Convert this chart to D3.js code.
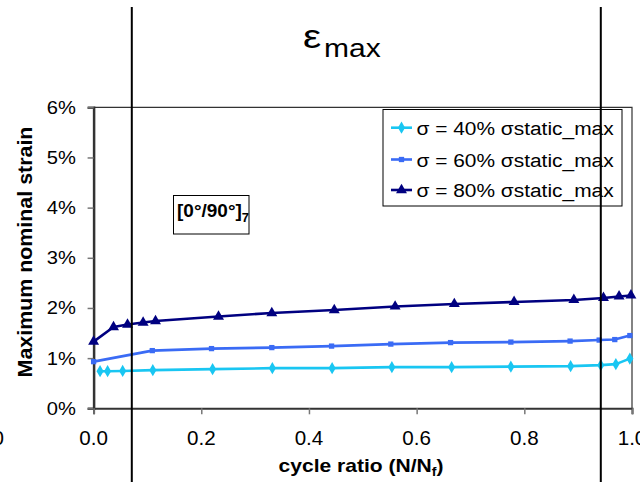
<!DOCTYPE html>
<html>
<head>
<meta charset="utf-8">
<script src="https://cdn.jsdelivr.net/npm/d3@7"></script>
<style>
  html, body { margin: 0; padding: 0; background: #fff; }
  svg { display: block; }
  text { font-family: "Liberation Sans", Arial, sans-serif; }
</style>
</head>
<body>
<svg id="chart" width="640" height="482"></svg>
<script>
// ---- data ----
const seriesNames = ["σ = 40% σstatic_max", "σ = 60% σstatic_max", "σ = 80% σstatic_max"];
const seriesColors = ["#19C6F2", "#3A6BF5", "#000080"];
const seriesSymbols = ["diamond", "square", "triangle"];

const x40 = [0.012, 0.026, 0.054, 0.110, 0.221, 0.332, 0.443, 0.554, 0.665, 0.775, 0.886, 0.942, 0.970, 0.996];
const y40 = [0.74, 0.74, 0.745, 0.76, 0.78, 0.80, 0.80, 0.82, 0.82, 0.83, 0.84, 0.86, 0.88, 0.99];

const x60 = [0.0, 0.109, 0.219, 0.331, 0.442, 0.552, 0.663, 0.775, 0.885, 0.939, 0.968, 0.996];
const y60 = [0.93, 1.15, 1.19, 1.21, 1.24, 1.28, 1.31, 1.32, 1.34, 1.36, 1.37, 1.45];

const x80 = [0.0, 0.037, 0.063, 0.092, 0.115, 0.232, 0.331, 0.447, 0.560, 0.670, 0.781, 0.892, 0.947, 0.976, 0.998];
const y80 = [1.33, 1.62, 1.67, 1.71, 1.74, 1.83, 1.90, 1.96, 2.03, 2.08, 2.12, 2.16, 2.20, 2.23, 2.25];

const xTicks = [0.0, 0.2, 0.4, 0.6, 0.8, 1.0];
const xTickLabels = ["0.0", "0.2", "0.4", "0.6", "0.8", "1.0"];
const yTicks = [0, 1, 2, 3, 4, 5, 6];
const yTickLabels = ["0%", "1%", "2%", "3%", "4%", "5%", "6%"];

// ---- drawing ----
const svg = d3.select("#chart");
const pLeft = 93.6, pRight = 632, pTop = 107.3, pBottom = 408.3;
const x = d3.scaleLinear().domain([0, 1]).range([pLeft, pRight]);
const y = d3.scaleLinear().domain([0, 6]).range([pBottom, pTop]);

function stext(g, str, tx, ty, opts) {
  return g.append("text")
    .attr("transform", `translate(${tx},${ty}) ${opts.rotate ? "rotate(" + opts.rotate + ")" : ""} scale(${opts.sx || 1},1)`)
    .attr("font-size", opts.size)
    .attr("font-weight", opts.bold ? "bold" : "normal")
    .attr("text-anchor", opts.anchor || "start")
    .attr("fill", "#000")
    .text(str);
}

// plot frame (top & right)
svg.append("path")
  .attr("d", `M${pLeft},${pTop}H${pRight}V${pBottom}`)
  .attr("fill", "none").attr("stroke", "#333").attr("stroke-width", 1.2);

// y axis
const yAxis = d3.axisLeft(y).tickValues(yTicks).tickSize(6).tickFormat("");
const gy = svg.append("g").attr("transform", `translate(${pLeft},0)`).call(yAxis);
gy.select(".domain").attr("stroke", "#333").attr("stroke-width", 2.5);
gy.selectAll(".tick line").attr("stroke", "#777").attr("stroke-width", 1.5);
yTicks.forEach((v, i) => stext(svg, yTickLabels[i], 76, y(v) + 6.5, { size: 18, sx: 1.12, anchor: "end" }));

// x axis
const xAxis = d3.axisBottom(x).tickValues(xTicks).tickSize(6).tickFormat("");
const gx = svg.append("g").attr("transform", `translate(0,${pBottom})`).call(xAxis);
gx.select(".domain").attr("stroke", "#333").attr("stroke-width", 2);
gx.selectAll(".tick line").attr("stroke", "#777").attr("stroke-width", 1.5);
xTicks.forEach((v, i) => stext(svg, xTickLabels[i], x(v), 445, { size: 20, sx: 1.03, anchor: "middle" }));

// series
const allX = [x40, x60, x80], allY = [y40, y60, y80];
const symSize = { diamond: 44, square: 28, triangle: 52 };
const symType = { diamond: d3.symbolDiamond, square: d3.symbolSquare, triangle: d3.symbolTriangle };
const line = d3.line().x(d => x(d[0])).y(d => y(d[1]));
allX.forEach((xs, s) => {
  const pts = xs.map((v, i) => [v, allY[s][i]]);
  svg.append("path").datum(pts)
    .attr("d", line).attr("fill", "none")
    .attr("stroke", seriesColors[s]).attr("stroke-width", 2.6)
    .attr("stroke-linejoin", "round");
  const sym = d3.symbol().type(symType[seriesSymbols[s]]).size(symSize[seriesSymbols[s]]);
  svg.append("g").selectAll("path").data(pts).join("path")
    .attr("transform", d => `translate(${x(d[0])},${y(d[1])})`)
    .attr("d", sym).attr("fill", seriesColors[s]);
});

// legend
const lg = svg.append("g");
lg.append("rect").attr("x", 383).attr("y", 109.5).attr("width", 239).attr("height", 96.5)
  .attr("fill", "#fff").attr("stroke", "#000").attr("stroke-width", 1);
const legRows = [127.7, 159.5, 190];
seriesNames.forEach((nm, s) => {
  const ry = legRows[s];
  lg.append("line").attr("x1", 391).attr("x2", 412).attr("y1", ry).attr("y2", ry)
    .attr("stroke", seriesColors[s]).attr("stroke-width", 2.6);
  lg.append("path").attr("transform", `translate(401.5,${ry})`)
    .attr("d", d3.symbol().type(symType[seriesSymbols[s]]).size(symSize[seriesSymbols[s]]))
    .attr("fill", seriesColors[s]);
  stext(lg, nm, 416.5, ry + 7, { size: 19, sx: 1.1 });
});

// annotation box [0°/90°]7
svg.append("rect").attr("x", 173.5).attr("y", 195.5).attr("width", 75.5).attr("height", 38.5)
  .attr("fill", "#fff").attr("stroke", "#000").attr("stroke-width", 1);
const ann = svg.append("text").attr("x", 177).attr("y", 216.7)
  .attr("font-size", 19).attr("font-weight", "bold").attr("fill", "#000");
ann.append("tspan").text("[0°/90°]");
ann.append("tspan").attr("font-size", 13).attr("dy", 5).text("7");

// axis titles
stext(svg, "Maximum nominal strain", 31.5, 252, { size: 20, sx: 1.07, bold: true, anchor: "middle", rotate: -90 });
const xt = svg.append("text")
  .attr("transform", `translate(361,471.5) scale(1.17,1)`)
  .attr("font-size", 18).attr("font-weight", "bold").attr("text-anchor", "middle").attr("fill", "#000");
xt.append("tspan").text("cycle ratio (N/N");
xt.append("tspan").attr("font-size", 12).attr("dy", 4).text("f");
xt.append("tspan").attr("dy", -4).text(")");

// chart title ε_max
stext(svg, "ε", 303, 48, { size: 34, sx: 1.2 });
stext(svg, "max", 324, 57, { size: 25, sx: 1.2 });

// fragment of neighbouring chart label at the left edge
stext(svg, "1.0", 4, 445, { size: 20, sx: 1.03, anchor: "end" });

// vertical guide lines
[131.8, 600.8].forEach(vx => {
  svg.append("line").attr("x1", vx).attr("x2", vx).attr("y1", 7).attr("y2", 482)
    .attr("stroke", "#000").attr("stroke-width", 2);
});
</script>
</body>
</html>
